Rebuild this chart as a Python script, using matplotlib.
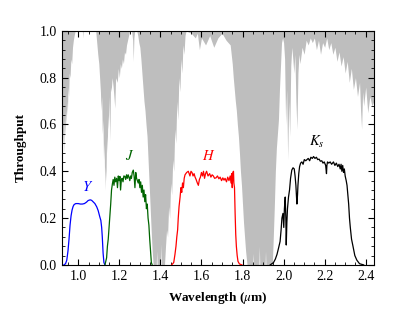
import numpy as np
import matplotlib
matplotlib.use("Agg")
import matplotlib.pyplot as plt
from matplotlib.ticker import MultipleLocator

plt.rcParams['font.family'] = ['Liberation Serif', 'DejaVu Serif']
plt.rcParams['mathtext.fontset'] = 'stix'

# atmospheric transmission
atm_wl = [0.920, 0.923, 0.926, 0.929, 0.932, 0.935, 0.938, 0.941, 0.944, 0.947,
          0.950, 0.953, 0.956, 0.960, 0.964, 0.968, 0.972, 0.976, 0.980, 0.985,
          1.020, 1.022, 1.024, 1.085,
          1.090, 1.095, 1.100, 1.104, 1.108, 1.111, 1.114, 1.117, 1.120, 1.123,
          1.126, 1.129, 1.132, 1.135, 1.138, 1.141, 1.144, 1.147, 1.150, 1.154,
          1.157, 1.160, 1.165, 1.170, 1.178, 1.182, 1.190, 1.195, 1.200, 1.205,
          1.210, 1.215, 1.220, 1.225, 1.230, 1.235, 1.240, 1.245, 1.250, 1.260,
          1.265, 1.268, 1.271, 1.275, 1.285, 1.290, 1.295,
          1.300, 1.305, 1.310, 1.315, 1.320, 1.325, 1.330, 1.335, 1.340, 1.345,
          1.350, 1.355, 1.360, 1.365, 1.380, 1.382, 1.384, 1.400, 1.402, 1.404,
          1.420, 1.425, 1.430, 1.435, 1.440, 1.445, 1.450, 1.455, 1.460, 1.465,
          1.470, 1.475, 1.480, 1.485, 1.490, 1.495, 1.500, 1.505, 1.510, 1.515,
          1.520, 1.525, 1.550, 1.570, 1.580, 1.590, 1.600, 1.620, 1.640, 1.660,
          1.680, 1.700, 1.720, 1.740,
          1.745, 1.750, 1.755, 1.760, 1.765, 1.770, 1.775, 1.780, 1.785, 1.790,
          1.795, 1.800, 1.805, 1.810, 1.815, 1.822, 1.850, 1.852, 1.854, 1.880,
          1.882, 1.884, 1.910, 1.912, 1.914, 1.945,
          1.950, 1.955, 1.960, 1.965, 1.970, 1.975, 1.980, 1.985, 1.990, 1.995,
          2.000, 2.005, 2.010, 2.015, 2.020, 2.025, 2.030, 2.035, 2.040, 2.045,
          2.050, 2.055, 2.060, 2.065, 2.070, 2.075, 2.080,
          2.090, 2.100, 2.110, 2.120, 2.130, 2.140, 2.150, 2.160, 2.170, 2.180,
          2.190, 2.200, 2.210, 2.220, 2.230, 2.240, 2.250, 2.260, 2.270, 2.280,
          2.290, 2.300, 2.310, 2.320, 2.330, 2.340, 2.350, 2.360, 2.370, 2.375,
          2.380, 2.385, 2.390, 2.400, 2.410, 2.420, 2.430, 2.440]
atm_tr = [0.60, 0.50, 0.58, 0.48, 0.62, 0.55, 0.66, 0.60, 0.70, 0.64,
          0.76, 0.72, 0.82, 0.80, 0.88, 0.86, 0.93, 0.96, 0.98, 1.00,
          1.00, 0.97, 1.00, 1.00,
          0.95, 0.90, 0.86, 0.80, 0.74, 0.66, 0.72, 0.56, 0.62, 0.45,
          0.52, 0.32, 0.42, 0.36, 0.55, 0.48, 0.64, 0.58, 0.72, 0.53,
          0.76, 0.74, 0.80, 0.76, 0.67, 0.80, 0.78, 0.84, 0.80, 0.86,
          0.84, 0.88, 0.86, 0.91, 0.90, 0.94, 0.96, 0.98, 1.00, 1.00,
          0.96, 0.87, 0.97, 1.00, 1.00, 0.98, 0.95,
          0.93, 0.88, 0.82, 0.76, 0.70, 0.66, 0.60, 0.55, 0.45, 0.35,
          0.25, 0.15, 0.06, 0.00, 0.00, 0.06, 0.00, 0.00, 0.09, 0.00,
          0.00, 0.08, 0.15, 0.12, 0.25, 0.20, 0.35, 0.30, 0.45, 0.40,
          0.58, 0.52, 0.70, 0.62, 0.80, 0.74, 0.88, 0.82, 0.94, 0.90,
          0.98, 1.00, 0.99, 0.97, 0.99, 0.92, 0.97, 0.94, 0.98, 0.93,
          0.97, 0.99, 0.96, 0.94,
          0.90, 0.86, 0.80, 0.75, 0.70, 0.66, 0.60, 0.55, 0.48, 0.40,
          0.34, 0.26, 0.18, 0.12, 0.06, 0.00, 0.00, 0.05, 0.00, 0.00,
          0.08, 0.00, 0.00, 0.06, 0.00, 0.00,
          0.12, 0.25, 0.40, 0.50, 0.56, 0.62, 0.75, 0.85, 0.95, 0.97,
          0.95, 0.88, 0.60, 0.75, 0.45, 0.70, 0.55, 0.85, 0.93, 0.88,
          0.82, 0.90, 0.70, 0.58, 0.82, 0.90, 0.86,
          0.93, 0.90, 0.96, 0.94, 0.97, 0.95, 0.97, 0.92, 0.96, 0.90,
          0.95, 0.93, 0.97, 0.92, 0.95, 0.90, 0.93, 0.87, 0.91, 0.85,
          0.89, 0.82, 0.87, 0.78, 0.84, 0.75, 0.80, 0.72, 0.78, 0.66,
          0.58, 0.74, 0.68, 0.76, 0.65, 0.72, 0.68, 0.70]

# filter throughputs
y_wl = [0.930, 0.938, 0.944, 0.950, 0.955, 0.960, 0.965, 0.970, 0.975, 0.980,
        0.988, 1.000, 1.010, 1.020, 1.030, 1.040, 1.048, 1.058, 1.065, 1.072,
        1.081, 1.090, 1.097, 1.105, 1.110, 1.114, 1.117, 1.121, 1.125, 1.130]
y_tr = [0.000, 0.005, 0.020, 0.060, 0.110, 0.170, 0.210, 0.235, 0.250, 0.258,
        0.262, 0.262, 0.260, 0.260, 0.262, 0.268, 0.275, 0.278, 0.276, 0.270,
        0.262, 0.248, 0.232, 0.205, 0.190, 0.160, 0.120, 0.050, 0.010, 0.000]

j_wl = [1.130, 1.138, 1.142, 1.146, 1.150, 1.154, 1.158, 1.162, 1.166, 1.170,
        1.174, 1.178, 1.182, 1.187, 1.191, 1.195, 1.199, 1.203, 1.206, 1.210,
        1.214, 1.218, 1.222, 1.227, 1.231, 1.235, 1.239, 1.243, 1.247, 1.251,
        1.255, 1.259, 1.263, 1.268, 1.272, 1.276, 1.280, 1.284, 1.288, 1.292,
        1.296, 1.300, 1.304, 1.308, 1.312, 1.316, 1.320, 1.324, 1.328, 1.332,
        1.336, 1.340, 1.344, 1.348, 1.352, 1.356, 1.360]
j_tr = [0.000, 0.030, 0.080, 0.110, 0.160, 0.210, 0.260, 0.320, 0.345, 0.365,
        0.340, 0.375, 0.355, 0.370, 0.330, 0.380, 0.360, 0.378, 0.320, 0.365,
        0.370, 0.355, 0.380, 0.378, 0.365, 0.385, 0.370, 0.385, 0.375, 0.360,
        0.380, 0.370, 0.395, 0.405, 0.380, 0.330, 0.395, 0.370, 0.360, 0.350,
        0.365, 0.330, 0.355, 0.310, 0.340, 0.290, 0.320, 0.270, 0.300, 0.240,
        0.260, 0.200, 0.170, 0.110, 0.060, 0.010, 0.000]

h_wl = [1.455, 1.465, 1.471, 1.476, 1.480, 1.484, 1.487, 1.491, 1.496, 1.500,
        1.504, 1.508, 1.512, 1.516, 1.520, 1.528, 1.536, 1.544, 1.549, 1.554,
        1.559, 1.564, 1.569, 1.574, 1.580, 1.585, 1.590, 1.595, 1.600, 1.605,
        1.610, 1.615, 1.620, 1.625, 1.632, 1.640, 1.646, 1.652, 1.658, 1.664,
        1.671, 1.678, 1.685, 1.691, 1.698, 1.704, 1.710, 1.715, 1.722, 1.728,
        1.734, 1.740, 1.744, 1.747, 1.750, 1.753, 1.756, 1.758, 1.761, 1.764,
        1.767, 1.770, 1.774, 1.778, 1.785, 1.797]
h_tr = [0.000, 0.010, 0.045, 0.080, 0.120, 0.150, 0.200, 0.250, 0.290, 0.330,
        0.310, 0.350, 0.330, 0.370, 0.385, 0.395, 0.400, 0.380, 0.400, 0.395,
        0.380, 0.390, 0.375, 0.365, 0.350, 0.340, 0.365, 0.375, 0.395, 0.380,
        0.400, 0.370, 0.390, 0.400, 0.380, 0.390, 0.375, 0.385, 0.380, 0.370,
        0.372, 0.380, 0.368, 0.375, 0.360, 0.372, 0.362, 0.370, 0.355, 0.375,
        0.360, 0.380, 0.350, 0.390, 0.330, 0.395, 0.400, 0.350, 0.330, 0.220,
        0.130, 0.080, 0.040, 0.015, 0.004, 0.000]

ks_wl = [1.935, 1.951, 1.960, 1.968, 1.975, 1.983, 1.988, 1.992, 1.997, 2.001,
         2.004, 2.008, 2.011, 2.013, 2.016, 2.019, 2.024, 2.029, 2.034, 2.040,
         2.046, 2.052, 2.056, 2.060, 2.063, 2.065, 2.068, 2.070, 2.074, 2.078,
         2.083, 2.089, 2.095, 2.101, 2.108, 2.114, 2.120, 2.127, 2.133, 2.140,
         2.146, 2.153, 2.160, 2.166, 2.173, 2.179, 2.186, 2.192, 2.198, 2.205,
         2.209, 2.211, 2.214, 2.220, 2.227, 2.234, 2.243, 2.250, 2.257, 2.264,
         2.270, 2.276, 2.280, 2.284, 2.288, 2.292, 2.296, 2.300, 2.305, 2.309,
         2.313, 2.317, 2.321, 2.325, 2.331, 2.338, 2.347, 2.357, 2.370, 2.390]
ks_tr = [0.000, 0.010, 0.025, 0.045, 0.070, 0.100, 0.150, 0.200, 0.220, 0.160,
         0.240, 0.290, 0.200, 0.085, 0.180, 0.240, 0.290, 0.320, 0.370, 0.405,
         0.415, 0.410, 0.380, 0.340, 0.290, 0.260, 0.300, 0.340, 0.390, 0.420,
         0.435, 0.440, 0.430, 0.450, 0.445, 0.450, 0.455, 0.445, 0.460, 0.455,
         0.463, 0.455, 0.460, 0.450, 0.452, 0.443, 0.445, 0.435, 0.440, 0.425,
         0.390, 0.425, 0.440, 0.435, 0.440, 0.430, 0.440, 0.425, 0.435, 0.420,
         0.430, 0.410, 0.430, 0.400, 0.425, 0.395, 0.410, 0.380, 0.360, 0.340,
         0.300, 0.260, 0.200, 0.160, 0.110, 0.080, 0.040, 0.020, 0.005, 0.000]

labels = ['$Y$', '$J$', '$H$', '$K_s$']
label_x = [1.045, 1.250, 1.634, 2.160]
label_y = [0.305, 0.435, 0.435, 0.490]
colors = ['#0000ff', '#006400', '#ff0000', '#000000']

fig = plt.figure(figsize=(4.15, 3.12), dpi=100)
ax = fig.add_axes([0.149, 0.151, 0.752, 0.750])

ax.fill_between(atm_wl, atm_tr, 1.0, color='#bebebe', lw=0, zorder=1)

curves = [(y_wl, y_tr), (j_wl, j_tr), (h_wl, h_tr), (ks_wl, ks_tr)]
for (wl, tr), c in zip(curves, colors):
    ax.plot(wl, tr, color=c, lw=0.9, zorder=3)

for lab, lx, ly, c in zip(labels, label_x, label_y, colors):
    ax.text(lx, ly, lab, color=c, fontsize=10.5, ha='center', va='bottom')

ax.set_xlim(0.92, 2.44)
ax.set_ylim(0.0, 1.0)
ax.xaxis.set_major_locator(MultipleLocator(0.2))
ax.xaxis.set_minor_locator(MultipleLocator(0.05))
ax.yaxis.set_major_locator(MultipleLocator(0.2))
ax.yaxis.set_minor_locator(MultipleLocator(0.04))
ax.tick_params(which='both', direction='in', top=True, right=True, labelsize=10)
ax.tick_params(which='major', length=4)
ax.tick_params(which='minor', length=2)

ax.set_xlabel('Wavelength ($\\mu$m)', fontsize=9.5, fontweight='bold', labelpad=5)
ax.set_ylabel('Throughput', fontsize=9.5, fontweight='bold', labelpad=9)

fig.savefig('out.png', dpi=100)
